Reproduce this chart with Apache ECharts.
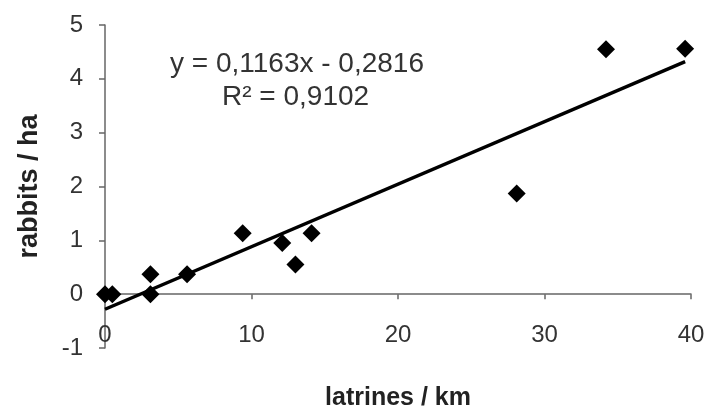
<!DOCTYPE html>
<html><head><meta charset="utf-8">
<script src="https://cdn.jsdelivr.net/npm/echarts@6/dist/echarts.min.js"></script>
<style>html,body{margin:0;padding:0;background:#fff}#c{width:709px;height:414px}</style>
</head><body><div id="c"></div>
<script>
const latrines = [0, 0.5, 3.1, 3.1, 5.6, 9.4, 12.1, 13.0, 14.1, 28.1, 34.2, 39.6];
const rabbits  = [0, 0, 0.37, 0, 0.37, 1.13, 0.95, 0.55, 1.13, 1.87, 4.55, 4.56];
const trendX = [0, 39.6];
const trendY = [-0.28, 4.32];
const xTicks = [0, 10, 20, 30, 40];
const yTicks = [-1, 0, 1, 2, 3, 4, 5];
const equationText = 'y = 0,1163x - 0,2816';
const r2Text = 'R² = 0,9102';

const chart = echarts.init(document.getElementById('c'));
const font = '"Liberation Sans", Arial, sans-serif';
chart.setOption({
  animation: false,
  backgroundColor: '#fff',
  grid: {left: 105, right: 18, top: 25, bottom: 66, outerBoundsMode: 'none', containLabel: false},
  xAxis: {
    type: 'value', min: xTicks[0], max: xTicks[xTicks.length-1], interval: 10,
    name: 'latrines / km', nameLocation: 'middle', nameGap: 38,
    nameTextStyle: {fontFamily: font, fontSize: 25, fontWeight: 'bold', color: '#222'},
    axisLine: {onZero: true, lineStyle: {color: '#666', width: 1.5}},
    axisTick: {show: true, length: 5, lineStyle: {color: '#666', width: 1.5}},
    axisLabel: {margin: -25, fontFamily: font, fontSize: 24, color: '#333'},
    splitLine: {show: false}
  },
  yAxis: {
    type: 'value', min: yTicks[0], max: yTicks[yTicks.length-1], interval: 1,
    name: 'rabbits / ha', nameLocation: 'middle', nameGap: 62,
    nameTextStyle: {fontFamily: font, fontSize: 27, fontWeight: 'bold', color: '#222'},
    axisLine: {show: true, onZero: false, lineStyle: {color: '#666', width: 1.5}},
    axisTick: {show: true, length: 6, lineStyle: {color: '#666', width: 1.5}},
    axisLabel: {margin: 22, fontFamily: font, fontSize: 24, color: '#333'},
    splitLine: {show: false}
  },
  series: [
    {
      type: 'line', data: trendX.map((x, i) => [x, trendY[i]]),
      symbol: 'none', lineStyle: {color: '#000', width: 3.5}, z: 2
    },
    {
      type: 'scatter', data: latrines.map((x, i) => [x, rabbits[i]]),
      symbol: 'diamond', symbolSize: 18, itemStyle: {color: '#000', opacity: 1}, z: 3
    }
  ],
  graphic: [
    {type: 'text', left: 170, top: 50, style: {text: equationText, font: '28px ' + font, fill: '#333'}},
    {type: 'text', left: 222, top: 83, style: {text: r2Text, font: '28px ' + font, fill: '#333'}}
  ]
});
</script></body></html>
